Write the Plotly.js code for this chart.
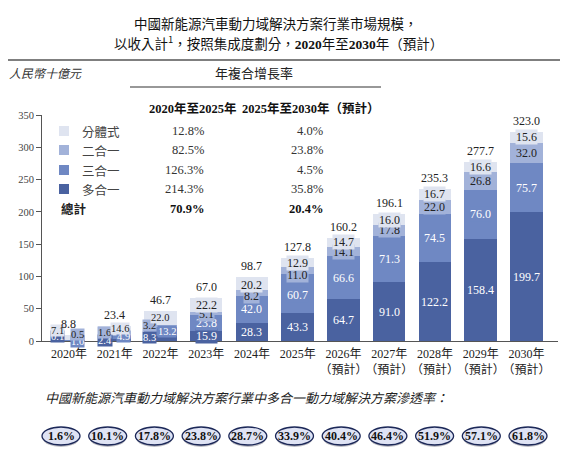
<!DOCTYPE html>
<html>
<head>
<meta charset="utf-8">
<script src="https://cdn.plot.ly/plotly-3.0.1.min.js"></script>
<style>html,body{margin:0;padding:0;background:#fff;}#chart{width:568px;height:458px;}</style>
</head>
<body>
<div id="chart"></div>
<script>
// ---- data ----
const years = ['2020','2021','2022','2023','2024','2025','2026','2027','2028','2029','2030'];
const yearLabels = ['2020年','2021年','2022年','2023年','2024年','2025年','2026年<br>（預計）','2027年<br>（預計）','2028年<br>（預計）','2029年<br>（預計）','2030年<br>（預計）'];
const duoHeYi  = [0.1, 2.4, 8.3, 15.9, 28.3, 43.3, 64.7, 91.0, 122.2, 158.4, 199.7];
const sanHeYi  = [1.0, 4.9, 13.2, 23.8, 42.0, 60.7, 66.6, 71.3, 74.5, 76.0, 75.7];
const erHeYi   = [0.5, 1.6, 3.2, 5.1, 8.2, 11.0, 14.1, 17.8, 22.0, 26.8, 32.0];
const fenTiShi = [7.1, 14.6, 22.0, 22.2, 20.2, 12.9, 14.7, 16.0, 16.7, 16.6, 15.6];
const totals   = [8.8, 23.4, 46.7, 67.0, 98.7, 127.8, 160.2, 196.1, 235.3, 277.7, 323.0];
const seriesNames = ['分體式','二合一','三合一','多合一'];
const cagr2020_2025 = ['12.8%','82.5%','126.3%','214.3%'];
const cagr2025_2030 = ['4.0%','23.8%','4.5%','35.8%'];
const cagrTotal = ['70.9%','20.4%'];
const penetration = ['1.6%','10.1%','17.8%','23.8%','28.7%','33.9%','40.4%','46.4%','51.9%','57.1%','61.8%'];

// ---- styles ----
const C_DUO = '#4a62a0', C_SAN = '#6f88c3', C_ER = '#a2b2d9', C_FEN = '#dfe4f0';
const SERIF = 'Liberation Serif, Noto Sans CJK TC, serif';
const CJK = 'Noto Sans CJK TC, sans-serif';
const W = 568, H = 458, ML = 42, MR = 10, MT = 115, MB = 117;
const PW = W - ML - MR, PH = H - MT - MB;
const px = v => (v - ML) / PW;
const py = v => (H - MB - v) / PH;

const stack = [
  {vals: duoHeYi,  color: C_DUO, text: '#ffffff', name: '多合一'},
  {vals: sanHeYi,  color: C_SAN, text: '#ffffff', name: '三合一'},
  {vals: erHeYi,   color: C_ER,  text: '#222222', name: '二合一'},
  {vals: fenTiShi, color: C_FEN, text: '#222222', name: '分體式'}
];
// label nudges (pixels) for crowded segments: [xshift, yshift] per stack layer
const nudges = {
  0: [[-11,4],[9,-1],[9,6],[-11,7]],
  1: [[-10,0],[9,1],[-10,3],[5,2.5]],
  2: [[-11,1],[7,0],[-11,1],[0,0]],
  4: [[0,0],[0,0],[0,-3.5],[0,-1]],
  5: [[0,0],[0,-1.5],[0,-4.5],[0,0]]
};
const smallFontYears = [0, 1, 2];

const traces = stack.map(s => ({
  type: 'bar', x: years.map((_, i) => i), y: s.vals, name: s.name,
  marker: {color: s.color, line: {width: 0}},
  width: 0.71, hoverinfo: 'skip', textposition: 'none'
}));

const ann = [];
const shapes = [];
function txt(x, y, text, opt) {
  ann.push(Object.assign({xref: 'paper', yref: 'paper', x: px(x), y: py(y), text: text,
    showarrow: false, xanchor: 'left', yanchor: 'middle',
    font: {family: CJK, size: 13, color: '#222'}}, opt || {}));
}

// segment labels
years.forEach((yr, i) => {
  let base = 0;
  stack.forEach((s, k) => {
    const v = s.vals[i];
    const mid = base + v / 2;
    base += v;
    const n = nudges[i] ? nudges[i][k] : [0, 0];
    const small = smallFontYears.includes(i);
    ann.push({xref: 'x', yref: 'y', x: i, y: mid, text: v.toFixed(1), showarrow: false,
      xanchor: 'center', yanchor: 'middle',
      xshift: n[0], yshift: n[1], bgcolor: s.color, borderpad: 0,
      font: {family: SERIF, size: small ? 10.5 : 12, color: s.text}});
  });
  ann.push({xref: 'x', yref: 'y', x: i, y: totals[i], text: totals[i].toFixed(1), showarrow: false,
    xanchor: 'center', yanchor: 'bottom', yshift: 2, font: {family: SERIF, size: 12, color: '#222'}});
});

// titles
txt(276, 23, '中國新能源汽車動力域解決方案行業市場規模，', {xanchor: 'center', font: {family: CJK, size: 13.5, color: '#111'}});
txt(278, 43, '以收入計<sup>1</sup>，按照集成度劃分，<b><span style="font-family:Liberation Serif">2020</span></b>年至<b><span style="font-family:Liberation Serif">2030</span></b>年（預計）',
  {xanchor: 'center', font: {family: CJK, size: 13.5, color: '#111'}});
shapes.push({type: 'line', xref: 'paper', yref: 'paper', x0: px(8), x1: px(560), y0: py(60), y1: py(60), line: {color: '#555', width: 1.5}});
txt(7, 73, '<i>人民幣十億元</i>', {font: {family: CJK, size: 12, color: '#333'}});
txt(254, 72, '年複合增長率', {xanchor: 'center', font: {family: CJK, size: 13, color: '#222'}});
shapes.push({type: 'line', xref: 'paper', yref: 'paper', x0: px(130), x1: px(381), y0: py(87), y1: py(87), line: {color: '#333', width: 1.2}});
txt(147, 108, '<b>2020年至2025年</b>', {font: {family: SERIF, size: 12.5, color: '#111'}});
txt(240, 108, '<b>2025年至2030年（預計）</b>', {font: {family: SERIF, size: 12.5, color: '#111'}});

// CAGR legend table
const legendColors = [C_FEN, C_ER, C_SAN, C_DUO];
const rowY = [131, 150, 170, 189];
seriesNames.forEach((nm, r) => {
  shapes.push({type: 'rect', xref: 'paper', yref: 'paper', x0: px(59), x1: px(69), y0: py(rowY[r] + 5), y1: py(rowY[r] - 5),
    fillcolor: legendColors[r], line: {width: 0}});
  txt(80, rowY[r], nm, {font: {family: CJK, size: 12.5, color: '#444'}});
  txt(206, rowY[r], cagr2020_2025[r], {xanchor: 'right', font: {family: SERIF, size: 12.5, color: '#333'}});
  txt(325, rowY[r], cagr2025_2030[r], {xanchor: 'right', font: {family: SERIF, size: 12.5, color: '#333'}});
});
txt(59, 208.5, '<b>總計</b>', {font: {family: CJK, size: 12.5, color: '#222'}});
txt(206, 208.5, '<b>' + cagrTotal[0] + '</b>', {xanchor: 'right', font: {family: SERIF, size: 12.5, color: '#111'}});
txt(325, 208.5, '<b>' + cagrTotal[1] + '</b>', {xanchor: 'right', font: {family: SERIF, size: 12.5, color: '#111'}});

// penetration row
txt(43, 397, '<i>中國新能源汽車動力域解決方案行業中多合一動力域解決方案滲透率：</i>', {font: {family: CJK, size: 13, color: '#222'}});
penetration.forEach((p, i) => {
  const cx = 61 + 46.7 * i, cy = 436;
  shapes.push({type: 'circle', xref: 'paper', yref: 'paper', x0: px(cx - 18), x1: px(cx + 18), y0: py(cy + 11), y1: py(cy - 6),
    fillcolor: 'rgba(70,70,90,0.35)', line: {width: 0}});
  shapes.push({type: 'circle', xref: 'paper', yref: 'paper', x0: px(cx - 19), x1: px(cx + 19), y0: py(cy + 9), y1: py(cy - 9),
    fillcolor: '#dfe3f4', line: {color: '#1c2858', width: 1.3}});
  txt(cx, cy, '<b>' + p + '</b>', {xanchor: 'center', font: {family: SERIF, size: 12, color: '#111'}});
});

const layout = {
  width: W, height: H, margin: {l: ML, r: MR, t: MT, b: MB, pad: 0},
  paper_bgcolor: '#fff', plot_bgcolor: '#fff', showlegend: false,
  barmode: 'stack',
  xaxis: {type: 'linear', range: [-0.59, 10.69], tickmode: 'array', tickvals: years.map((_, i) => i), ticktext: yearLabels,
    tickangle: 0, ticklabelstandoff: 2, showline: true, linecolor: '#555', linewidth: 1, ticks: '', showgrid: false, zeroline: false,
    tickfont: {family: SERIF, size: 12, color: '#222'}, fixedrange: true},
  yaxis: {range: [0, 350], dtick: 50, showline: true, linecolor: '#555', linewidth: 1,
    ticks: 'outside', ticklen: 5, tickcolor: '#555', showgrid: false, zeroline: false,
    tickfont: {family: SERIF, size: 10.5, color: '#444'}, fixedrange: true},
  annotations: ann, shapes: shapes
};
Plotly.newPlot('chart', traces, layout, {staticPlot: true});
</script>
</body>
</html>
